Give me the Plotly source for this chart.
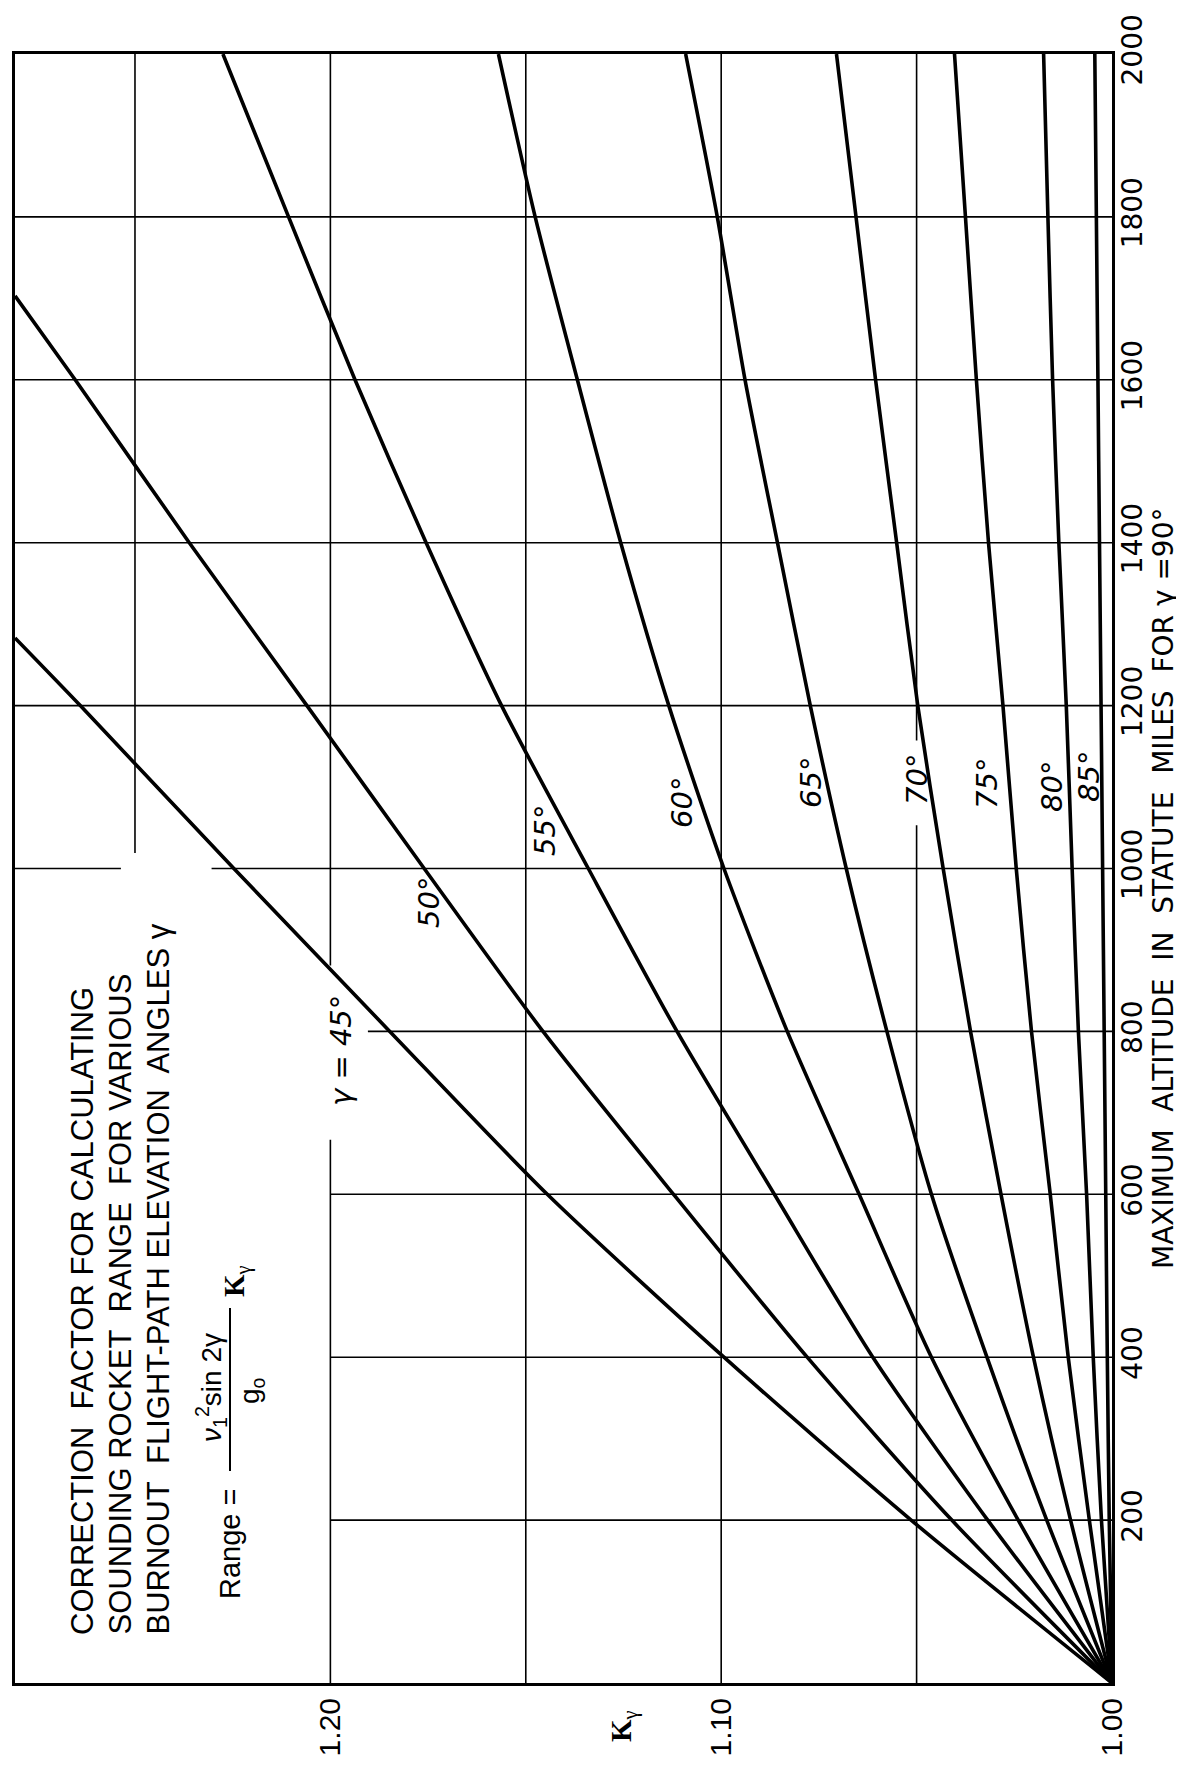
import plotly.graph_objects as go

# ---------------- data ----------------
altitude = [0, 200, 400, 600, 800, 1000, 1200, 1400, 1600, 1800, 2000]

alt_45 = [0, 200, 400, 600, 800, 1000, 1200, 1283]
k_45 = [1.0, 1.0514, 1.0993, 1.1445, 1.1848, 1.2247, 1.2640, 1.2807]

alt_50 = [0, 200, 400, 600, 800, 1000, 1200, 1400, 1600, 1703]
k_50 = [1.0, 1.0410, 1.0780, 1.1122, 1.1456, 1.1760, 1.2060, 1.2361, 1.2653, 1.2807]

k_55 = [1.0, 1.0318, 1.0612, 1.0864, 1.1113, 1.1340, 1.1562, 1.1755, 1.1937, 1.2107, 1.2275]
k_60 = [1.0, 1.0240, 1.0462, 1.0647, 1.0831, 1.0993, 1.1134, 1.1257, 1.1368, 1.1476, 1.1570]
k_65 = [1.0, 1.0167, 1.0320, 1.0462, 1.0576, 1.0680, 1.0772, 1.0856, 1.0939, 1.1010, 1.1091]
k_70 = [1.0, 1.0106, 1.0201, 1.0284, 1.0362, 1.0432, 1.0497, 1.0551, 1.0605, 1.0655, 1.0705]
k_75 = [1.0, 1.0058, 1.0112, 1.0158, 1.0206, 1.0245, 1.0279, 1.0316, 1.0347, 1.0375, 1.0403]
k_80 = [1.0, 1.0027, 1.0048, 1.0065, 1.0086, 1.0102, 1.0117, 1.0136, 1.0152, 1.0164, 1.0175]
k_85 = [1.0, 1.0007, 1.0012, 1.0016, 1.0020, 1.0024, 1.0028, 1.0032, 1.0036, 1.0040, 1.0044]

k_tickvals = [1.00, 1.10, 1.20]
k_ticktext = ["1.00", "1.10", "1.20"]
alt_tickvals = [200, 400, 600, 800, 1000, 1200, 1400, 1600, 1800, 2000]
alt_ticktext = ["200", "400", "600", "800", "1000", "1200", "1400", "1600", "1800", "2000"]

curve_labels = ["\u03b3 = 45\u00b0", "50\u00b0", "55\u00b0", "60\u00b0", "65\u00b0",
                "70\u00b0", "75\u00b0", "80\u00b0", "85\u00b0"]

title_lines = [
    "CORRECTION\u00a0 FACTOR FOR CALCULATING",
    "SOUNDING ROCKET\u00a0 RANGE\u00a0 FOR VARIOUS",
    "BURNOUT\u00a0 FLIGHT-PATH ELEVATION\u00a0 ANGLES \u03b3",
]
alt_title = "MAXIMUM\u00a0 ALTITUDE\u00a0 IN\u00a0 STATUTE\u00a0 MILES\u00a0 FOR \u03b3 =90\u00b0"

# ---------------- layout geometry ----------------
W, H = 1184, 1769
ML, MR, MT, MB = 7, 80, 46, 94
PL, PR, PT, PB = ML, W - MR, MT, H - MB
K_LEFT = 1.2807


def px(x):
    return (x - PL) / (PR - PL)


def py(y):
    return (PB - y) / (PB - PT)


SANS = "Liberation Sans, Arial, sans-serif"
DEJA = "DejaVu Sans, sans-serif"
fig = go.Figure()

curves = [(k_45, alt_45), (k_50, alt_50), (k_55, altitude), (k_60, altitude),
          (k_65, altitude), (k_70, altitude), (k_75, altitude), (k_80, altitude),
          (k_85, altitude)]
for (kv, av), name in zip(curves, curve_labels):
    fig.add_trace(go.Scatter(x=kv, y=av, mode="lines", name=name,
                             line=dict(color="black", width=3.6, shape="spline", smoothing=0.7),
                             showlegend=False, hoverinfo="skip"))

# grid lines (with the gaps left around the lettering)
shapes = []
v_grid = {1.05: [(0, 1053), (1157, 2000)], 1.10: [(0, 2000)], 1.15: [(0, 2000)],
          1.20: [(0, 667), (881, 2000)], 1.25: [(1019, 2000)]}
h_grid = {200: [(1.20, 1.0)], 400: [(1.20, 1.0)], 600: [(1.20, 1.0)],
          800: [(1.1904, 1.0)], 1000: [(K_LEFT, 1.2536), (1.2304, 1.0)],
          1200: [(K_LEFT, 1.0)], 1400: [(K_LEFT, 1.0)], 1600: [(K_LEFT, 1.0)],
          1800: [(K_LEFT, 1.0)]}
for kval, segs in v_grid.items():
    for a0, a1 in segs:
        shapes.append(dict(type="line", xref="x", yref="y", x0=kval, x1=kval, y0=a0, y1=a1,
                           line=dict(color="black", width=1.6), layer="below"))
for aval, segs in h_grid.items():
    for k0, k1 in segs:
        shapes.append(dict(type="line", xref="x", yref="y", x0=k0, x1=k1, y0=aval, y1=aval,
                           line=dict(color="black", width=1.6), layer="below"))
# fraction bar of the formula
shapes.append(dict(type="line", xref="paper", yref="paper", x0=px(222), x1=px(222),
                   y0=py(1300), y1=py(1463), line=dict(color="black", width=2)))


def rot(text, x, y, size, family=SANS, yanchor="middle"):
    return dict(text=text, x=px(x), y=py(y), xref="paper", yref="paper",
                xanchor="center", yanchor=yanchor, textangle=-90, showarrow=False,
                font=dict(family=family, size=size, color="black"))


ann = []
# title block
for xc, txt in zip([74, 112, 150], title_lines):
    ann.append(rot(txt, xc, 1629, 31, yanchor="bottom"))
# formula
ann.append(rot("Range =", 222, 1593, 29, yanchor="bottom"))
ann.append(rot("<i>\u03bd</i><sub>1</sub><sup>2</sup>sin 2\u03b3", 203, 1380, 28))
ann.append(rot("g<sub>o</sub>", 243, 1383, 28))
ann.append(rot("<b>K</b><sub>\u03b3</sub>", 228, 1273, 29, family="Liberation Serif, serif"))
# curve labels
label_pos = [(333, 1043), (421, 895), (537, 823), (674, 795), (803, 775),
             (909, 772), (979, 776), (1044, 779), (1081, 769)]
for (xc, yc), txt in zip(label_pos, curve_labels):
    ann.append(rot("<i>" + txt + "</i>", xc, yc, 29, family=DEJA))
# axis titles
ann.append(rot(alt_title, 1155, 880, 28, family=DEJA))
ann.append(rot("<b>K</b><sub>\u03b3</sub>", 615, 1718, 29, family="Liberation Serif, serif"))

fig.update_layout(
    width=W, height=H, margin=dict(l=ML, r=MR, t=MT, b=MB, pad=0, autoexpand=False),
    paper_bgcolor="white", plot_bgcolor="white",
    shapes=shapes, annotations=ann, showlegend=False,
)
fig.update_xaxes(range=[K_LEFT, 1.0], tickvals=k_tickvals, ticktext=k_ticktext, tickangle=-90,
                 showgrid=False, zeroline=False, showline=True, mirror=True, linewidth=3,
                 linecolor="black", ticks="", automargin=False,
                 tickfont=dict(family=SANS, size=30, color="black"))
fig.update_yaxes(range=[0, 2000], tickvals=alt_tickvals, ticktext=alt_ticktext, tickangle=-90,
                 side="right", showgrid=False, zeroline=False, showline=True, mirror=True,
                 linewidth=3, linecolor="black", ticks="", ticklabelstandoff=-7,
                 automargin=False, tickfont=dict(family=DEJA, size=28, color="black"))

fig.write_html("out.html")
